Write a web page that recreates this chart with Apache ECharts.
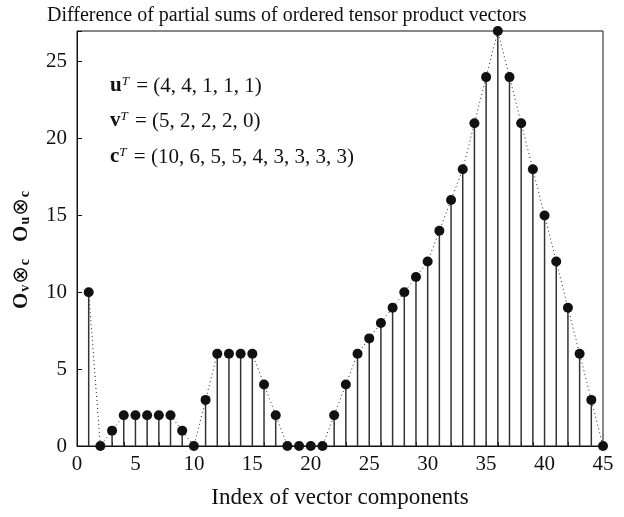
<!DOCTYPE html>
<html>
<head>
<meta charset="utf-8">
<script src="https://cdn.jsdelivr.net/npm/echarts@6/dist/echarts.min.js"></script>
<style>
  html, body { margin: 0; padding: 0; background: #fff; }
  #chart { width: 624px; height: 517px; }
</style>
</head>
<body>
<div id="chart"></div>
<script>
// 向量分量索引和部分和差值
const indices = [];
for (let i = 1; i <= 45; i++) indices.push(i);
const diffValues = [10, 0, 1, 2, 2, 2, 2, 2, 1, 0, 3, 6, 6, 6, 6, 4, 2, 0, 0, 0, 0,
  2, 4, 6, 7, 8, 9, 10, 11, 12, 14, 16, 18, 21, 24, 27, 24, 21, 18, 15, 12, 9, 6, 3, 0];
const xTicks = [0, 5, 10, 15, 20, 25, 30, 35, 40, 45];
const yTicks = [0, 5, 10, 15, 20, 25];

const points = indices.map((x, i) => [x, diffValues[i]]);
const serif = "Liberation Serif";

const supRich = {
  b: { fontFamily: serif, fontSize: 21, fontWeight: "bold" },
  s: { fontFamily: serif, fontSize: 13, fontStyle: "italic", verticalAlign: "top", padding: [0, 2, 9, 0] },
};

const chart = echarts.init(document.getElementById("chart"));
chart.setOption({
  animation: false,
  title: {
    text: "Difference of partial sums of ordered tensor product vectors",
    left: 42,
    top: 1,
    textStyle: { fontFamily: serif, fontWeight: "normal", fontSize: 20, color: "#111" },
  },
  grid: {
    left: 77, right: 21, top: 31, bottom: 71,
    show: true, borderColor: "#111", borderWidth: 1,
  },
  xAxis: {
    type: "value", min: 0, max: 45, interval: 1,
    name: "Index of vector components",
    nameLocation: "middle", nameGap: 40,
    nameTextStyle: { fontFamily: serif, fontSize: 23, color: "#111" },
    axisLine: { lineStyle: { color: "#111" } },
    axisTick: { inside: true, length: 4, lineStyle: { color: "#111" } },
    axisLabel: {
      fontFamily: serif, fontSize: 21, color: "#111", margin: 8,
      interval: 0,
      formatter: v => (xTicks.includes(v) ? String(v) : ""),
    },
    splitLine: { show: false },
  },
  yAxis: {
    type: "value", min: 0, max: 27, interval: 5,
    axisLine: { show: true, lineStyle: { color: "#111" } },
    axisTick: { show: true, inside: true, length: 5, lineStyle: { color: "#111" } },
    axisLabel: {
      fontFamily: serif, fontSize: 21, color: "#111", margin: 10,
      formatter: v => (yTicks.includes(v) ? String(v) : ""),
    },
    splitLine: { show: false },
  },
  graphic: [
    {
      type: "text", left: 110, top: 75,
      style: { text: "{b|u}{s|T} = (4, 4, 1, 1, 1)", fontFamily: serif, fontSize: 21, fill: "#111", rich: supRich },
    },
    {
      type: "text", left: 110, top: 110,
      style: { text: "{b|v}{s|T} = (5, 2, 2, 2, 0)", fontFamily: serif, fontSize: 21, fill: "#111", rich: supRich },
    },
    {
      type: "text", left: 110, top: 146,
      style: { text: "{b|c}{s|T} = (10, 6, 5, 5, 4, 3, 3, 3, 3)", fontFamily: serif, fontSize: 21, fill: "#111", rich: supRich },
    },
    {
      type: "text", left: 11, top: 191, rotation: Math.PI / 2,
      style: {
        text: "{o|O}{s|v}{x|⊗}{s|c}{g| }{o|O}{s|u}{x|⊗}{s|c}",
        fontFamily: serif, fontSize: 18, fill: "#111",
        rich: {
          o: { fontFamily: serif, fontSize: 21, fontWeight: "bold" },
          s: { fontFamily: serif, fontSize: 14, fontWeight: "bold", verticalAlign: "bottom", padding: [7, 1, 0, 1] },
          x: { fontFamily: "DejaVu Sans", fontSize: 21 },
          g: { fontSize: 18, width: 16 },
        },
      },
    },
  ],
  series: [
    {
      // 竖线（茎）
      type: "custom",
      data: points,
      renderItem: (params, api) => {
        const top = api.coord([api.value(0), api.value(1)]);
        const bottom = api.coord([api.value(0), 0]);
        return {
          type: "line",
          shape: { x1: top[0], y1: top[1], x2: bottom[0], y2: bottom[1] },
          style: { stroke: "#333", lineWidth: 1.5 },
        };
      },
      z: 1,
    },
    {
      type: "line",
      data: points,
      symbol: "circle",
      symbolSize: 10,
      itemStyle: { color: "#111" },
      lineStyle: { color: "#222", width: 1, type: [1, 3] },
      z: 2,
    },
  ],
});
</script>
</body>
</html>
